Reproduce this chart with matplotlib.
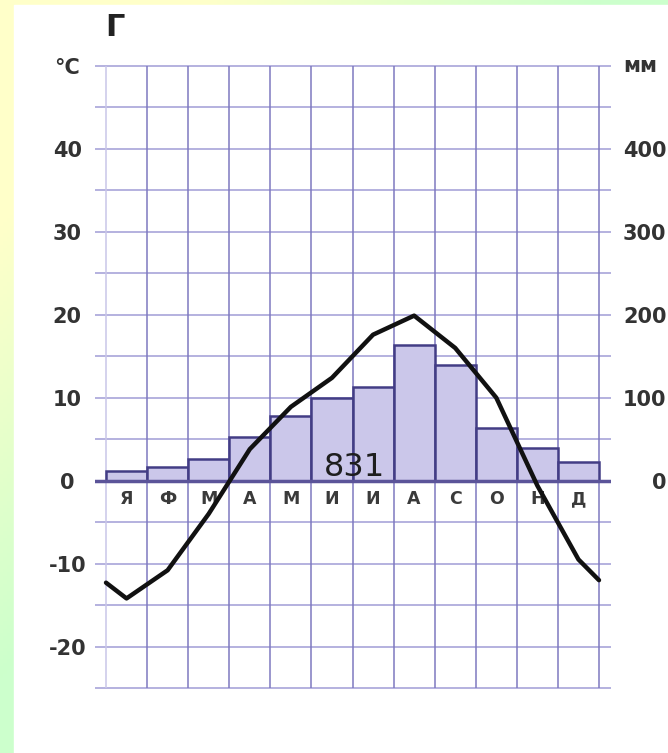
import matplotlib.pyplot as plt
import numpy as np
from matplotlib.patches import Rectangle

months = ["Я", "Ф", "М", "А", "М", "И", "И", "А", "С", "О", "Н", "Д"]
precip_mm = [12, 17, 26, 53, 78, 100, 113, 163, 140, 64, 39, 23]
temp_c = [-14.2, -10.8, -4.0, 3.8, 8.9, 12.4, 17.6, 19.9, 16.0, 10.0, -0.6, -9.5]
temp_jan_start = -12.3   # curve value at the left edge of the chart
temp_dec_end = -12.0     # curve value at the right edge of the chart
annual_total = "831"
temp_ticks = [-20, -10, 0, 10, 20, 30, 40]
mm_ticks = [0, 100, 200, 300, 400]

W, H = 668, 753
fig = plt.figure(figsize=(W / 100, H / 100), dpi=100)

# slide frame: yellow-green gradient strip on the top and left
bg = fig.add_axes([0, 0, 1, 1])
bg.set_zorder(-10)
bg.set_axis_off()
xx, yy = np.meshgrid(np.linspace(0, 1, 200), np.linspace(0, 1, 200))
t = np.clip((xx + yy - 0.3) / 0.6, 0, 1)[..., None]
yellow = np.array([1.0, 1.0, 0.79])
green = np.array([0.80, 1.0, 0.80])
bg.imshow(yellow * (1 - t) + green * t, extent=[0, 1, 0, 1], origin="upper", aspect="auto")
bg.add_patch(Rectangle((14 / W, 0), 1, 1 - 5 / H, color="white"))
bg.set_xlim(0, 1)
bg.set_ylim(0, 1)

# chart axes
px_x = 493 / 12
px_t = 622 / 75
xlim = (-0.5 - 11 / px_x, 11.5 + 12 / px_x)
ylim = (-25 - 4 / px_t, 50 + 4 / px_t)
ax = fig.add_axes([95 / W, (753 - 692) / H, 516 / W, 630 / H])
axp = ax.twinx()
ax.set_zorder(2)
axp.set_zorder(1)
for a in (ax, axp):
    a.patch.set_visible(False)
    for s in a.spines.values():
        s.set_visible(False)
    a.set_xlim(*xlim)
ax.set_ylim(*ylim)
axp.set_ylim(ylim[0] * 10, ylim[1] * 10)

# grid
for v in range(-250, 501, 50):
    axp.axhline(v, color="#a09cd6", lw=1.1, zorder=1)
edges = np.arange(-0.5, 12, 1)
axp.vlines(edges[1:], -250, 500, color="#7e79c0", lw=1.1, zorder=1)
axp.vlines(edges[:1], -250, 500, color="#c9c6e8", lw=1.1, zorder=1)

# precipitation bars
axp.bar(range(12), precip_mm, width=1, color="#cbc7ea", edgecolor="#433d85",
        linewidth=1.8, zorder=2)
axp.axhline(0, color="#5b5499", lw=2.5, zorder=3)

# month labels
for i, m in enumerate(months):
    ax.text(i, -2.2, m, ha="center", va="center", fontsize=12.5,
            fontweight="bold", color="#3a3a3a")

ax.text(5.55, 0.6, annual_total, ha="center", va="baseline", fontsize=23,
        color="#1e1e1e")

# temperature curve
tx = [-0.5] + list(range(12)) + [11.5]
ty = [temp_jan_start] + temp_c + [temp_dec_end]
ax.plot(tx, ty, color="#111111", lw=3.2, solid_joinstyle="round",
        solid_capstyle="round", zorder=5)

# axis labels
ax.set_xticks([])
axp.set_xticks([])
ax.set_yticks(temp_ticks + [50])
ax.set_yticklabels([str(v) for v in temp_ticks] + ["°C"])
ax.tick_params(axis="y", length=0, pad=20, labelsize=15, labelcolor="#333333")
for lab in ax.get_yticklabels():
    lab.set_fontweight("bold")
    lab.set_horizontalalignment("center")

axp.set_yticks(mm_ticks)
axp.set_yticklabels([str(v) for v in mm_ticks])
axp.tick_params(axis="y", length=0, pad=40, labelsize=15, labelcolor="#333333")
for lab in axp.get_yticklabels():
    lab.set_fontweight("bold")
    lab.set_horizontalalignment("right")

fig.text(623 / W, 1 - 66 / H, "мм", ha="left", va="center", fontsize=15,
         fontweight="bold", color="#333333")
fig.text(115 / W, 1 - 27 / H, "Г", ha="center", va="center", fontsize=22,
         fontweight="bold", color="#222222")

fig.savefig("out.png", dpi=100)
